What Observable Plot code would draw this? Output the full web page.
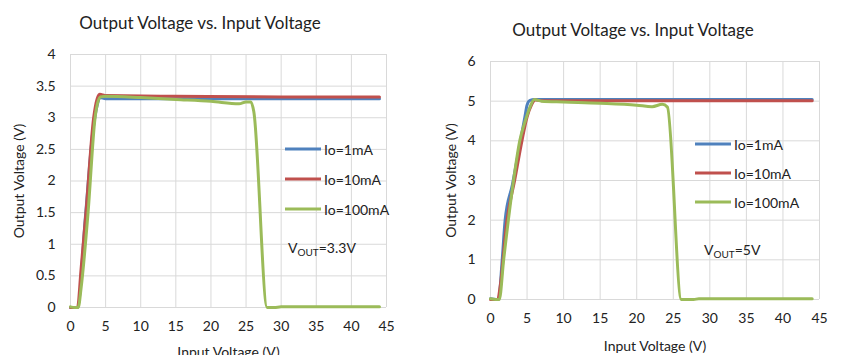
<!DOCTYPE html>
<html>
<head>
<meta charset="utf-8">
<script src="https://cdn.jsdelivr.net/npm/d3@7"></script>
<script src="https://cdn.jsdelivr.net/npm/@observablehq/plot@0.6"></script>
<style>
  body { margin: 0; background: #fff; font-family: Lato, "Open Sans", sans-serif; color: #222; }
  #wrap { position: relative; width: 865px; height: 355px; overflow: hidden; }
  .panel { position: absolute; top: 0; }
  .title { position: absolute; font-size: 17px; white-space: nowrap; transform: translate(-50%, -50%); }
  .leg { position: absolute; font-size: 14px; white-space: nowrap; transform: translateY(-50%); display: flex; align-items: center; }
  .leg span.sw { display: inline-block; height: 3px; margin-right: 3px; }
  .note { position: absolute; font-size: 14px; white-space: nowrap; transform: translateY(-50%); }
  .note sub { font-size: 10px; vertical-align: -3px; }
</style>
</head>
<body>
<div id="wrap"></div>
<script>
// ---------- data ----------
const xTicks = [0, 5, 10, 15, 20, 25, 30, 35, 40, 45];
const yTicksA = [0, 0.5, 1, 1.5, 2, 2.5, 3, 3.5, 4];
const yTicksB = [0, 1, 2, 3, 4, 5, 6];
const seriesNames = ["Io=1mA", "Io=10mA", "Io=100mA"];
const seriesColors = ["#4f81bd", "#c0504d", "#9bbb59"];

// Chart A: VOUT = 3.3V
const a1x = [0, 1, 2.1, 3.2, 3.8, 4.2, 5, 10, 20, 30, 44];
const a1y = [0, 0, 1.4, 2.8, 3.2, 3.32, 3.30, 3.30, 3.30, 3.30, 3.30];
const a2x = [0, 1, 1.5, 2.2, 3.3, 3.8, 4.2, 4.6, 5, 15, 30, 44];
const a2y = [0, 0, 0.6, 1.5, 3.0, 3.3, 3.37, 3.36, 3.35, 3.34, 3.33, 3.33];
const a3x = [0, 0.6, 1.1, 1.5, 2.5, 3.5, 3.9, 4.3, 5, 10, 15, 20, 24, 25, 25.7, 26.1, 28, 29, 30, 44];
const a3y = [0.01, 0, 0, 0.3, 1.5, 3.0, 3.25, 3.33, 3.34, 3.32, 3.29, 3.26, 3.22, 3.25, 3.25, 3.1, 0, 0, 0.01, 0.01];

// Chart B: VOUT = 5V
const b1x = [0, 0.8, 1.1, 1.6, 2.0, 3, 4, 4.7, 5.0, 5.4, 6, 44];
const b1y = [0.02, 0, 0, 1.0, 2.0, 2.9, 3.9, 4.6, 4.9, 5.02, 5.04, 5.04];
const b2x = [0, 1, 1.3, 2.25, 3.3, 4.3, 5, 5.6, 6.1, 7, 44];
const b2y = [0, 0, 0.3, 2.0, 3.0, 4.0, 4.6, 4.9, 5.03, 5.01, 5.01];
const b3x = [0, 0.7, 1.2, 1.8, 3.15, 4.0, 4.75, 5.4, 6.0, 7, 10, 15, 20, 22.1, 23.5, 24.2, 26.1, 27.8, 28.5, 44];
const b3y = [0.02, 0, 0, 1.0, 3.0, 4.0, 4.5, 4.85, 5.04, 5.0, 4.98, 4.95, 4.9, 4.86, 4.92, 4.85, 0, 0, 0.02, 0.02];

const titleText = "Output Voltage vs. Input Voltage";
const xLabel = "Input Voltage (V)";
const yLabel = "Output Voltage (V)";

// ---------- drawing ----------
const toRows = (xs, ys, s) => xs.map((x, i) => ({x, y: ys[i], s}));
const wrap = document.getElementById("wrap");

function makeChart(cfg) {
  const rows = cfg.series.map(([xs, ys], i) => toRows(xs, ys, seriesNames[i]));
  const svg = Plot.plot({
    width: cfg.width, height: 355,
    marginLeft: cfg.ml, marginRight: cfg.mr, marginTop: cfg.mt, marginBottom: cfg.mb,
    style: {fontFamily: "Lato, 'Open Sans', sans-serif", fontSize: "14px", color: "#222", background: "transparent", overflow: "visible"},
    x: {domain: [0, 45], ticks: xTicks, tickSize: 0, tickPadding: 14, tickFormat: d => String(d),
        label: xLabel, labelAnchor: "center", labelOffset: cfg.xlo, labelArrow: "none"},
    y: {domain: cfg.ydomain, ticks: cfg.yticks, tickSize: 0, tickPadding: 15, tickFormat: d => String(d),
        label: yLabel, labelAnchor: "center", labelOffset: cfg.ylo, labelArrow: "none"},
    marks: [
      Plot.gridX(xTicks, {stroke: "#d9d9d9", strokeOpacity: 1, strokeWidth: 1}),
      Plot.gridY(cfg.yticks, {stroke: "#d9d9d9", strokeOpacity: 1, strokeWidth: 1}),
      ...rows.map((r, i) => Plot.line(r, {x: "x", y: "y", stroke: seriesColors[i], strokeWidth: 3, curve: "monotone-x"}))
    ]
  });
  const div = document.createElement("div");
  div.className = "panel";
  div.style.left = cfg.left + "px";
  div.appendChild(svg);
  wrap.appendChild(div);

  const t = document.createElement("div");
  t.className = "title";
  t.textContent = titleText;
  t.style.left = cfg.titleX + "px";
  t.style.top = cfg.titleY + "px";
  wrap.appendChild(t);

  seriesNames.forEach((name, i) => {
    const l = document.createElement("div");
    l.className = "leg";
    l.style.left = cfg.legX + "px";
    l.style.top = cfg.legY[i] + "px";
    const sw = document.createElement("span");
    sw.className = "sw";
    sw.style.width = cfg.legW + "px";
    sw.style.background = seriesColors[i];
    l.appendChild(sw);
    l.appendChild(document.createTextNode(name));
    wrap.appendChild(l);
  });

  const n = document.createElement("div");
  n.className = "note";
  n.innerHTML = "V<sub>OUT</sub>=" + cfg.note;
  n.style.left = cfg.noteX + "px";
  n.style.top = cfg.noteY + "px";
  wrap.appendChild(n);
}

makeChart({
  left: 0, width: 430, ml: 70, mr: 44, mt: 54, mb: 48, xlo: 49, ylo: 56,
  ydomain: [0, 4], yticks: yTicksA,
  series: [[a1x, a1y], [a2x, a2y], [a3x, a3y]],
  titleX: 200, titleY: 22,
  legX: 285, legY: [149, 179, 209], legW: 36,
  note: "3.3V", noteX: 288, noteY: 248
});

makeChart({
  left: 430, width: 435, ml: 60, mr: 46, mt: 61, mb: 56, xlo: 51, ylo: 44,
  ydomain: [0, 6], yticks: yTicksB,
  series: [[b1x, b1y], [b2x, b2y], [b3x, b3y]],
  titleX: 633, titleY: 29,
  legX: 695, legY: [144, 173, 202], legW: 36,
  note: "5V", noteX: 704, noteY: 250
});
</script>
</body>
</html>
